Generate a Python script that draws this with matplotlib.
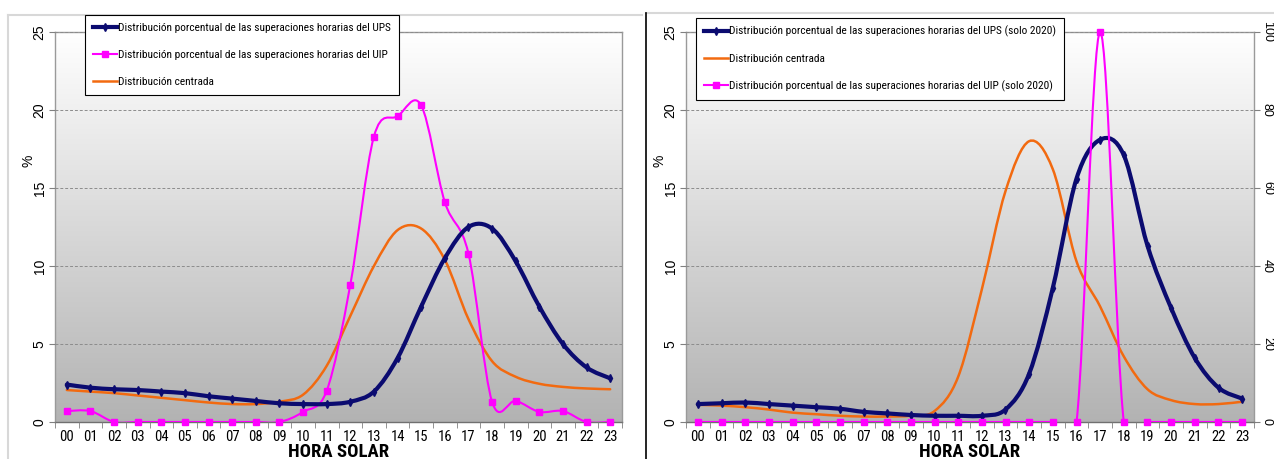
#!/usr/bin/env python3
"""
Distribución horaria de superaciones (UPS / UIP) frente a la distribución centrada.
Dos paneles: histórico (izq.) y solo 2020 (der., con eje secundario para el UIP).
"""
import numpy as np
import matplotlib.pyplot as plt
from matplotlib import font_manager as fm
from matplotlib.path import Path
from matplotlib.patches import PathPatch
from matplotlib.lines import Line2D

horas = ['%02d' % h for h in range(24)]

# panel izquierdo (%)
ups_izq = [2.4, 2.2, 2.1, 2.05, 1.95, 1.85, 1.65, 1.5, 1.35, 1.2, 1.15, 1.15,
           1.3, 1.95, 4.1, 7.4, 10.5, 12.5, 12.4, 10.3, 7.4, 5.0, 3.5, 2.8]
uip_izq = [0.7, 0.7, 0, 0, 0, 0, 0, 0, 0, 0, 0.65, 2.0,
           8.8, 18.3, 19.6, 20.3, 14.1, 10.8, 1.3, 1.35, 0.65, 0.7, 0, 0]
centrada_izq = [2.05, 1.95, 1.85, 1.7, 1.55, 1.4, 1.25, 1.15, 1.15, 1.3, 1.75, 3.6,
                6.8, 10.0, 12.3, 12.4, 10.4, 6.6, 3.9, 2.9, 2.45, 2.25, 2.15, 2.1]

# panel derecho: solo 2020 (UIP en eje secundario, 0-100)
ups_der = [1.15, 1.2, 1.25, 1.15, 1.05, 0.95, 0.85, 0.65, 0.55, 0.45, 0.4, 0.4,
           0.4, 0.8, 3.1, 8.6, 15.6, 18.1, 17.1, 11.3, 7.3, 4.1, 2.2, 1.5]
centrada_der = [1.1, 1.05, 0.95, 0.8, 0.6, 0.5, 0.4, 0.35, 0.35, 0.4, 0.7, 2.9,
                8.5, 14.8, 18.0, 16.2, 10.3, 7.4, 4.2, 2.1, 1.4, 1.15, 1.15, 1.3]
uip_der = [0, 0, 0, 0, 0, 0, 0, 0, 0, 0, 0, 0,
           0, 0, 0, 0, 0, 100, 0, 0, 0, 0, 0, 0]

NAVY = '#0b0b70'
MAGENTA = '#ff00ff'
ORANGE = '#f26a10'
ARIAL = ['Liberation Sans', 'DejaVu Sans']

# busca una fuente estrecha tipo Arial Narrow; si no hay, Liberation Sans más pequeña
_nombres = {f.name for f in fm.fontManager.ttflist}
_cond = {f.name for f in fm.fontManager.ttflist if f.stretch in ('condensed', 'semi-condensed')}
NARROW, NSTRETCH, NSCALE = ARIAL, 'normal', 0.75
for cand in ['Liberation Sans Narrow', 'Arial Narrow', 'Roboto Condensed',
             'Open Sans Condensed', 'Noto Sans Condensed']:
    if cand in _nombres:
        NARROW, NSTRETCH, NSCALE = [cand, 'DejaVu Sans'], 'normal', 1.0
        break
else:
    if 'DejaVu Sans' in _cond:
        NARROW, NSTRETCH, NSCALE = ['DejaVu Sans'], 'condensed', 0.9

LBL_UPS = 'Distribución porcentual de las superaciones horarias del UPS'
LBL_UIP = 'Distribución porcentual de las superaciones horarias del UIP'
LBL_CEN = 'Distribución centrada'


def smooth_path(x, y, k=1/6):
    # curva tipo "línea suavizada" de Excel: bezier cúbicas por segmentos
    p = np.column_stack([x, y]).astype(float)
    n = len(p)
    verts = [p[0]]
    codes = [Path.MOVETO]
    for i in range(n - 1):
        p0 = p[i - 1] if i > 0 else p[i]
        p3 = p[i + 2] if i + 2 < n else p[i + 1]
        c1 = p[i] + (p[i + 1] - p0) * k
        c2 = p[i + 1] - (p3 - p[i]) * k
        verts += [c1, c2, p[i + 1]]
        codes += [Path.CURVE4] * 3
    return Path(verts, codes)


def serie(ax, y, color, lw, marker=None, ms=0):
    x = np.arange(len(y))
    ax.add_patch(PathPatch(smooth_path(x, y), fill=False, edgecolor=color, lw=lw,
                           capstyle='round', joinstyle='round', zorder=3))
    if marker:
        ax.plot(x, y, ls='none', marker=marker, ms=ms, color=color, zorder=4,
                clip_on=False)


def gradiente(ax):
    g = np.linspace(1, 0, 256).reshape(-1, 1)
    top, bot = np.array([1.0, 1.0, 1.0]), np.array([0.70, 0.70, 0.70])
    img = bot + (top - bot) * g[..., None]
    ax.imshow(img, extent=[0, 1, 0, 1], transform=ax.transAxes, aspect='auto',
              zorder=0, interpolation='bilinear')


def base(ax):
    gradiente(ax)
    ax.set_xlim(-0.5, 23.5)
    ax.set_ylim(0, 25)
    ax.set_yticks([0, 5, 10, 15, 20, 25])
    ax.set_xticks(range(24))
    ax.set_xticklabels(horas, family=NARROW, stretch=NSTRETCH, fontsize=10.5 * NSCALE)
    ax.set_xticks(np.arange(-0.5, 24, 1), minor=True)
    ax.tick_params(axis='x', which='major', length=0, pad=6)
    ax.tick_params(axis='x', which='minor', length=4, color='#808080', direction='out')
    ax.tick_params(axis='y', length=4, color='#808080', pad=2)
    for t in ax.get_yticklabels():
        t.set_rotation(90)
        t.set_va('center')
        t.set_family(ARIAL)
        t.set_fontsize(10)
    ax.yaxis.grid(True, ls=(0, (3, 2)), color='#8c8c8c', lw=0.7)
    ax.set_axisbelow(False)
    for s in ax.spines.values():
        s.set_color('#9a9a9a')
        s.set_linewidth(1.0)
    ax.spines['bottom'].set_color('#707070')
    ax.set_xlabel('HORA SOLAR', family=NARROW, stretch=NSTRETCH,
                  fontsize=13.5 * NSCALE, fontweight='bold', labelpad=-1)
    ax.set_ylabel('%', family=ARIAL, fontsize=10)


def leyenda(handles, labels, x0, y0, spacing):
    lg = fig.legend(handles, labels, loc='upper left',
                    bbox_to_anchor=(x0 / W, 1 - y0 / H), borderaxespad=0,
                    prop={'family': NARROW, 'stretch': NSTRETCH, 'size': 8.2 * NSCALE},
                    handlelength=2.1, handletextpad=0.1, labelspacing=spacing,
                    borderpad=0.7, fancybox=False, framealpha=1,
                    edgecolor='black', facecolor='white')
    lg.get_frame().set_linewidth(0.8)


W, H = 1274, 459
fig = plt.figure(figsize=(W / 100, H / 100), dpi=100)
fig.patch.set_facecolor('white')

# --- panel izquierdo ---
ax1 = fig.add_axes([55 / W, 1 - 422 / H, 567 / W, 390 / H])
base(ax1)
ax1.yaxis.set_label_coords(-0.035, 0.67)
serie(ax1, centrada_izq, ORANGE, 1.8)
serie(ax1, uip_izq, MAGENTA, 1.5, 's', 5)
serie(ax1, ups_izq, NAVY, 3.0, 'd', 4)

leyenda([Line2D([], [], color=NAVY, lw=3, marker='d', ms=4),
         Line2D([], [], color=MAGENTA, lw=1.5, marker='s', ms=5),
         Line2D([], [], color=ORANGE, lw=1.8)],
        [LBL_UPS, LBL_UIP, LBL_CEN], 85, 15, 1.5)

# --- panel derecho ---
ax2 = fig.add_axes([686 / W, 1 - 422 / H, 568 / W, 390 / H])
base(ax2)
ax2.yaxis.set_label_coords(-0.035, 0.67)
serie(ax2, centrada_der, ORANGE, 1.8)
serie(ax2, ups_der, NAVY, 3.0, 'd', 4)

ax2b = ax2.twinx()
ax2b.set_ylim(0, 100)
ax2b.set_yticks([0, 20, 40, 60, 80, 100])
ax2b.tick_params(axis='y', length=4, color='#808080', pad=1)
for t in ax2b.get_yticklabels():
    t.set_rotation(-90)
    t.set_va('center')
    t.set_family(ARIAL)
    t.set_fontsize(9)
for s in ax2b.spines.values():
    s.set_visible(False)
serie(ax2b, uip_der, MAGENTA, 1.5, 's', 5)

leyenda([Line2D([], [], color=NAVY, lw=3, marker='d', ms=4),
         Line2D([], [], color=ORANGE, lw=1.8),
         Line2D([], [], color=MAGENTA, lw=1.5, marker='s', ms=5)],
        [LBL_UPS + ' (solo 2020)', LBL_CEN, LBL_UIP + ' (solo 2020)'],
        696, 18, 1.45)

# marcos de las dos imágenes
fig.add_artist(Line2D([8 / W, 8 / W], [0, 1 - 15 / H], color='#d8d8d8', lw=1.5))
fig.add_artist(Line2D([8 / W, 642 / W], [1 - 15 / H, 1 - 15 / H], color='#d8d8d8', lw=1.5))
fig.add_artist(Line2D([646 / W, 1], [1 - 13 / H, 1 - 13 / H], color='#d8d8d8', lw=1.5))
fig.add_artist(Line2D([646 / W, 646 / W], [0, 1 - 13 / H], color='black', lw=1.2))

fig.savefig('out.png', dpi=100)
print("Saved: out.png")
